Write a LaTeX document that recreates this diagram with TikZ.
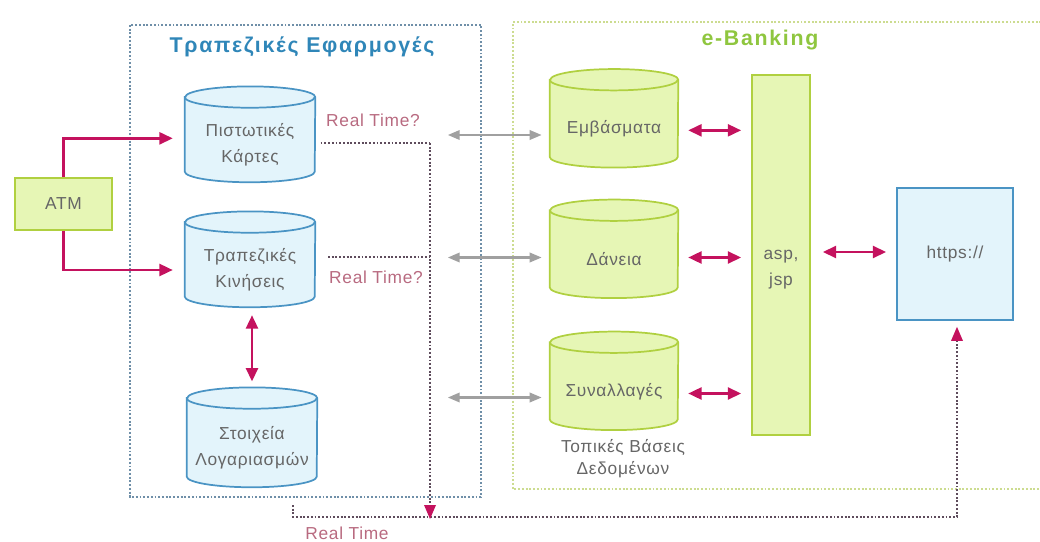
\documentclass[tikz,border=0pt]{standalone}
\usepackage{fontspec}
\setmainfont{Liberation Sans}[LetterSpace=4]
\newfontfamily\titlefont[LetterSpace=8]{Liberation Sans}
\usetikzlibrary{arrows.meta,calc,backgrounds}
\definecolor{magarr}{HTML}{C4125E}
\definecolor{grayarr}{HTML}{A0A0A0}
\definecolor{leftframe}{HTML}{6F8FA8}
\definecolor{greenframe}{HTML}{CCDC90}
\definecolor{bluetitle}{HTML}{2F86B8}
\definecolor{greentitle}{HTML}{8FC63F}
\definecolor{bluefill}{HTML}{E3F4FB}
\definecolor{bluedraw}{HTML}{4A94C4}
\definecolor{greenfill}{HTML}{E6F6B5}
\definecolor{greendraw}{HTML}{B0D040}
\definecolor{txtgray}{HTML}{666666}
\definecolor{rtcol}{HTML}{B86A80}
\definecolor{rtline}{HTML}{5E4C5C}
\newcommand\cylbg[4]{%
  \begin{pgfonlayer}{background}
  \path[fill=#3,draw=#4,line width=1.3pt] ([yshift=8pt]#1.north west) -- ([yshift=8pt]#1.south west)
     arc[start angle=180,end angle=360,x radius=#2,y radius=8pt] -- ([yshift=8pt]#1.north east)
     arc[start angle=0,end angle=180,x radius=#2,y radius=8pt] -- cycle;
  \draw[#4,line width=1.3pt] ([yshift=8pt]#1.north west) arc[start angle=180,end angle=360,x radius=#2,y radius=8pt];
  \end{pgfonlayer}}
\tikzset{
  txt/.style={text=txtgray,font=\fontsize{13}{19.5}\selectfont,align=center},
  cylblue/.style={txt,minimum width=97.5pt,minimum height=55.5pt,inner sep=0pt},
  cylgreen/.style={txt,minimum width=96pt,minimum height=57.5pt,inner sep=0pt},
  magline/.style={magarr,line width=1.8pt,-{Triangle[length=10pt,width=9pt]}},
  magboth/.style={magarr,line width=1.8pt,{Triangle[length=10pt,width=9pt]}-{Triangle[length=10pt,width=9pt]}},
  grayboth/.style={grayarr,line width=1.8pt,{Triangle[length=9pt,width=7pt]}-{Triangle[length=9pt,width=7pt]}},
  rtdots/.style={rtline,line width=1.6pt,dash pattern=on 1.4pt off 1.4pt},
  rttext/.style={text=rtcol,font=\fontsize{13}{15}\selectfont}
}
\begin{document}
\begin{tikzpicture}[x=0.75pt,y=-0.75pt]
\useasboundingbox (0,0) rectangle (1040,542);
% frames
\draw[leftframe,line width=1.4pt,dash pattern=on 1.4pt off 1.4pt] (130,25) rectangle (481,497);
\draw[greenframe,line width=1.4pt,dash pattern=on 1.4pt off 1.4pt] (1060,22) -- (513,22) -- (513,489) -- (1060,489);
\node[text=bluetitle,font=\titlefont\fontsize{16}{18}\selectfont\bfseries] (t1) at (302,47) {Τραπεζικές Εφαρμογές};
\node[text=greentitle,font=\titlefont\fontsize{16}{18}\selectfont\bfseries] (t2) at (760,40) {e-Banking};
% left cylinders
\node[cylblue] (pk) at (250,145) {Πιστωτικές\\Κάρτες};
\node[cylblue] (tk) at (250,270) {Τραπεζικές\\Κινήσεις};
\node[cylblue,minimum height=58.5pt] (sl) at (252,448) {Στοιχεία\\Λογαριασμών};
\cylbg{pk}{48.75pt}{bluefill}{bluedraw}
\cylbg{tk}{48.75pt}{bluefill}{bluedraw}
\cylbg{sl}{48.75pt}{bluefill}{bluedraw}
% green cylinders
\node[cylgreen] (em) at (614,129) {Εμβάσματα};
\node[cylgreen] (da) at (614,259.5) {Δάνεια};
\node[cylgreen] (sy) at (614,391.5) {Συναλλαγές};
\cylbg{em}{48pt}{greenfill}{greendraw}
\cylbg{da}{48pt}{greenfill}{greendraw}
\cylbg{sy}{48pt}{greenfill}{greendraw}
\node[txt,font=\fontsize{13}{16.5}\selectfont] (tb) at (623,459) {Τοπικές Βάσεις\\Δεδομένων};
% asp/jsp
\node[draw=greendraw,fill=greenfill,line width=1.3pt,minimum width=43.5pt,minimum height=270pt,inner sep=0pt] (asp) at (781,255) {};
\node[txt] (asptxt) at (781,270) {asp,\\jsp};
% https
\node[draw=bluedraw,fill=bluefill,line width=1.3pt,minimum width=87pt,minimum height=99pt,txt] (https) at (955,254) {https://};
% ATM
\node[draw=greendraw,fill=greenfill,line width=1.3pt,minimum width=72.75pt,minimum height=39pt,txt] (atm) at (63.5,204) {ATM};
% ATM arrows
\draw[magline,shorten >=9pt] (atm.north) |- ([yshift=5pt]pk.west);
\draw[magline,shorten >=9pt] (atm.south) |- (tk.west);
\draw[magboth,shorten <=6pt,shorten >=4.5pt] ([xshift=1.5pt]tk.south) -- ([xshift=0pt,yshift=16pt]sl.north);
% gray arrows
\draw[grayboth,shorten >=6pt] ($(em.west)+(-102,6)$) -- ([yshift=-4.5pt]em.west);
\draw[grayboth,shorten >=6pt] ($(da.west)+(-102,-2)$) -- ([yshift=1.5pt]da.west);
\draw[grayboth,shorten >=6pt] ($(sy.west)+(-102,6)$) -- ([yshift=-4.5pt]sy.west);
% magenta double arrows
\draw[magboth,shorten <=7.5pt,shorten >=7.5pt] ([yshift=-1pt]em.east) -- ([yshift=-1pt]em.east -| asp.west);
\draw[magboth,shorten <=7.5pt,shorten >=7.5pt] ([yshift=1.5pt]da.east) -- ([yshift=1.5pt]da.east -| asp.west);
\draw[magboth,shorten <=7.5pt,shorten >=7.5pt] ([yshift=-1.5pt]sy.east) -- ([yshift=-1.5pt]sy.east -| asp.west);
\draw[magboth,shorten <=9pt,shorten >=7.5pt] ([yshift=1.5pt]https.west -| asp.east) -- ([yshift=1.5pt]https.west);
% real time
\node[rttext] (rt1) at (373,120) {Real Time?};
\node[rttext] (rt2) at (376,277) {Real Time?};
\node[rttext] (rt3) at (347,533) {Real Time};
\coordinate (c1) at (430,143);
\coordinate (c2) at (328,257);
\coordinate (c3) at (430,519);
\coordinate (c4) at (293,505);
\coordinate (c5) at (957,517);
\draw[rtdots] ([xshift=4pt,yshift=1.5pt]pk.east) -- (c1);
\draw[rtdots] (c2) -- (c2 -| c1);
\draw[rtdots,line width=2pt] (c1) -- ($(c3)+(0,-12)$);
\draw[rtdots] (c4) |- (c5) -- ($(https.south)+(2,12)$);
\fill[magarr] (c3) -- ++(-6,-14) -- ++(12,0) -- cycle;
\fill[magarr] ($(https.south)+(2,6)$) -- ++(-6,14) -- ++(12,0) -- cycle;
\end{tikzpicture}
\end{document}
